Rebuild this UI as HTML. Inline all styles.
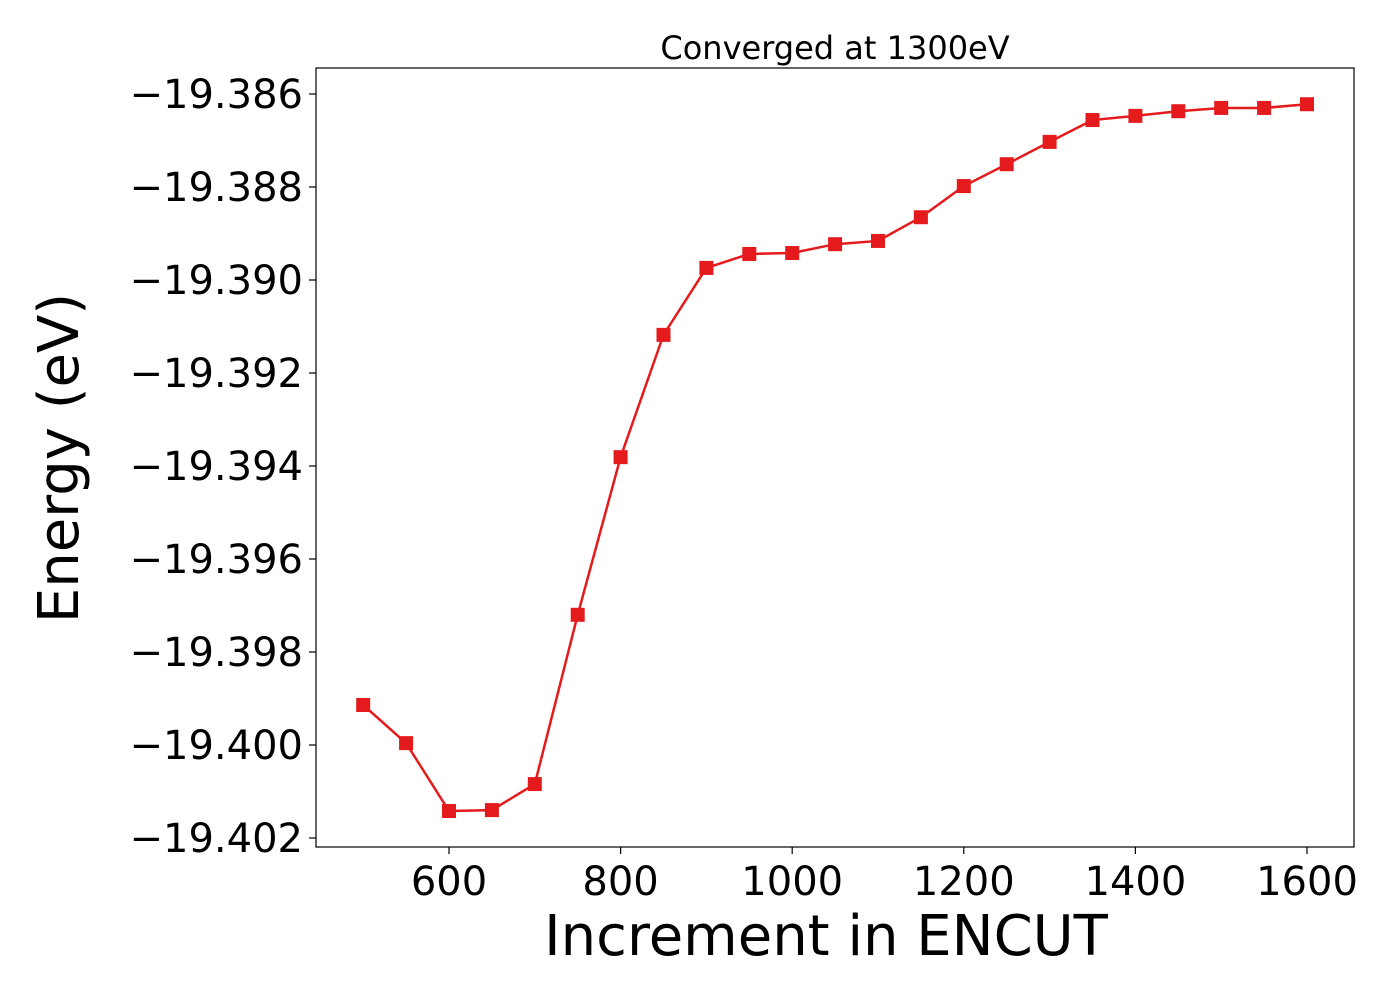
<!DOCTYPE html>
<html><head><meta charset="utf-8"><style>
html,body{margin:0;padding:0;background:#fff;}
svg{display:block;font-family:"DejaVu Sans","Liberation Sans",sans-serif;}
</style></head><body>
<svg id="chart" width="1400" height="1000" viewBox="0 0 1400 1000">
<text x="835" y="59" font-size="32" text-anchor="middle">Converged at 1300eV</text>
<g id="grid"></g>
<rect x="316" y="68" width="1038" height="779" fill="none" stroke="#000" stroke-width="1.2"/>
<text x="826" y="955" font-size="56" text-anchor="middle">Increment in ENCUT</text>
<text transform="translate(78,458) rotate(-90)" font-size="56" text-anchor="middle">Energy (eV)</text>
</svg>
<script>
const categories=[500,550,600,650,700,750,800,850,900,950,1000,1050,1100,1150,1200,1250,1300,1350,1400,1450,1500,1550,1600];
const energies=[-19.39914,-19.39996,-19.40142,-19.40140,-19.40084,-19.39720,-19.39381,-19.39118,-19.38974,-19.38944,-19.38942,-19.38923,-19.38916,-19.38865,-19.38798,-19.38751,-19.38703,-19.38656,-19.38647,-19.38637,-19.38630,-19.38630,-19.38622];
const xTicks=[600,800,1000,1200,1400,1600];
const yTicks=[-19.386,-19.388,-19.390,-19.392,-19.394,-19.396,-19.398,-19.400,-19.402];
const NS="http://www.w3.org/2000/svg";
const svg=document.getElementById('chart');
function xs(v){return 449+(v-600)*(1307-449)/1000;}
function ys(v){return 94+(-19.386-v)*(838-94)/0.016;}
function mk(t,a){const e=document.createElementNS(NS,t);for(const k in a)e.setAttribute(k,a[k]);svg.appendChild(e);return e;}
xTicks.forEach(t=>{
 const l=mk('line',{x1:xs(t),x2:xs(t),y1:847,y2:854,stroke:'#000','stroke-width':1.2});
 
 
 const tx=mk('text',{x:xs(t),y:895,'font-size':40,'text-anchor':'middle'});
 tx.textContent=t;
 
 
});
yTicks.forEach(t=>{
 const l=mk('line',{x1:309,x2:316,y1:ys(t),y2:ys(t),stroke:'#000','stroke-width':1.2});
 
 
 const tx=mk('text',{x:303,y:ys(t)+14,'font-size':40,'text-anchor':'end'});
 tx.textContent='\u2212'+Math.abs(t).toFixed(3);
 
 
});
const pts=categories.map((c,i)=>xs(c)+','+ys(energies[i])).join(' ');
const pl=mk('polyline',{points:pts,fill:'none',stroke:'#e41a1c','stroke-width':2.5});


categories.forEach((c,i)=>{
 const r=mk('rect',{x:xs(c)-7,y:ys(energies[i])-7,width:14,height:14,fill:'#e41a1c'});
 
 
});
</script>
</body></html>
